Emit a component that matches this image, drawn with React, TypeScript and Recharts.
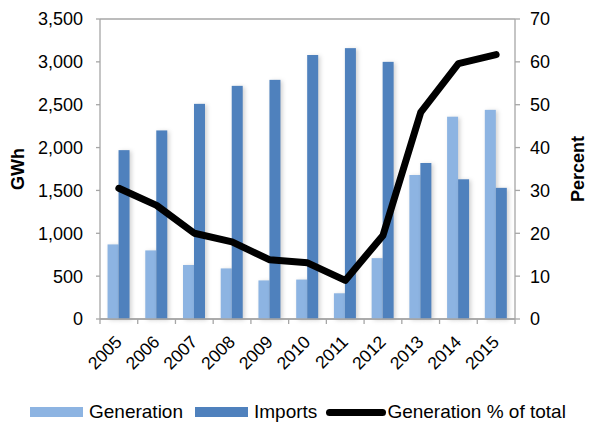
import React from 'react';
import {
  ComposedChart,
  Bar,
  Line,
  XAxis,
  YAxis,
  CartesianGrid,
  Legend,
} from 'recharts';

// Electricity supply by year
const years = ['2005', '2006', '2007', '2008', '2009', '2010', '2011', '2012', '2013', '2014', '2015'];
const generation = [870, 800, 630, 590, 450, 460, 300, 710, 1680, 2360, 2440];
const imports = [1970, 2200, 2510, 2720, 2790, 3080, 3160, 3000, 1820, 1630, 1530];
const generationShare = [30.5, 26.5, 20, 18, 13.8, 13.1, 9, 19.5, 48.2, 59.6, 61.7];

const gwhTicks = [0, 500, 1000, 1500, 2000, 2500, 3000, 3500];
const pctTicks = [0, 10, 20, 30, 40, 50, 60, 70];

const data = years.map((year, i) => ({
  year,
  generation: generation[i],
  imports: imports[i],
  share: generationShare[i],
}));

const WIDTH = 589;
const HEIGHT = 423;
const LEFT_AXIS_W = 100;
const RIGHT_AXIS_W = 74;
const PLOT_W = WIDTH - LEFT_AXIS_W - RIGHT_AXIS_W;
const BAND = PLOT_W / years.length;

const FONT = '"Liberation Sans", Arial, sans-serif';
const GRID = '#a6a6a6';
const LIGHT = '#8db4e2';
const DARK = '#4f81bd';

// Year label rotated 45°, plus category-boundary tick marks
const YearTick = (props: any) => {
  const { x, y, payload, index } = props;
  const axisY = y - 5;
  const left = x - BAND / 2;
  const right = x + BAND / 2;
  const tx = x + 4;
  const ty = y + 19;
  return (
    <g>
      <line x1={left} y1={axisY} x2={left} y2={axisY + 5} stroke={GRID} strokeWidth={1.3} />
      {index === years.length - 1 && (
        <line x1={right} y1={axisY} x2={right} y2={axisY + 5} stroke={GRID} strokeWidth={1.3} />
      )}
      <text
        x={tx}
        y={ty}
        textAnchor="end"
        transform={`rotate(-45, ${tx}, ${ty})`}
        fontFamily={FONT}
        fontSize={17.5}
        fill="#000"
      >
        {payload.value}
      </text>
    </g>
  );
};

// Bars with a soft shadow on the right
const ShadowBar = (props: any) => {
  const { x, y, width, height, fill } = props;
  if (!height || height <= 0) return null;
  return (
    <rect
      x={x}
      y={y}
      width={width}
      height={height}
      fill={fill}
      style={{ filter: 'drop-shadow(2px 1px 2px rgba(0,0,0,0.18))' }}
    />
  );
};

const LegendContent = () => (
  <div
    style={{
      display: 'flex',
      alignItems: 'center',
      paddingLeft: 30,
      fontFamily: FONT,
      fontSize: 19,
      color: '#000',
      lineHeight: '22px',
    }}
  >
    <span style={{ display: 'inline-block', width: 53, height: 10, background: LIGHT, marginRight: 6 }} />
    <span style={{ marginRight: 12 }}>Generation</span>
    <span style={{ display: 'inline-block', width: 53, height: 10, background: DARK, marginRight: 6 }} />
    <span style={{ marginRight: 9 }}>Imports</span>
    <span
      style={{
        display: 'inline-block',
        width: 60,
        height: 7,
        borderRadius: 3.5,
        background: '#000',
        marginRight: 1,
      }}
    />
    <span>Generation % of total</span>
  </div>
);

export default function App() {
  return (
    <div style={{ position: 'absolute', left: 0, top: 0, width: WIDTH, height: HEIGHT, background: '#fff' }}>
      <ComposedChart
        width={WIDTH}
        height={HEIGHT}
        data={data}
        margin={{ top: 19, right: 0, bottom: 0, left: 0 }}
        barCategoryGap="20%"
        barGap={0}
      >
        <CartesianGrid vertical={false} stroke={GRID} strokeWidth={1.3} />
        <XAxis
          dataKey="year"
          height={82}
          tick={<YearTick />}
          tickLine={false}
          tickSize={5}
          tickMargin={0}
          interval={0}
          axisLine={{ stroke: GRID, strokeWidth: 1.3 }}
        />
        <YAxis
          yAxisId="gwh"
          width={LEFT_AXIS_W}
          domain={[0, 3500]}
          ticks={gwhTicks}
          tickFormatter={(v: number) => v.toLocaleString('en-US')}
          tick={{ fontFamily: FONT, fontSize: 18, fill: '#000' }}
          tickSize={4}
          tickMargin={13}
          tickLine={{ stroke: GRID, strokeWidth: 1.3 }}
          axisLine={{ stroke: GRID, strokeWidth: 1.3 }}
          label={{
            value: 'GWh',
            angle: -90,
            position: 'insideLeft',
            offset: 18,
            style: { fontFamily: FONT, fontSize: 18, fontWeight: 'bold', fill: '#000', textAnchor: 'middle' },
          }}
        />
        <YAxis
          yAxisId="pct"
          orientation="right"
          width={RIGHT_AXIS_W}
          domain={[0, 70]}
          ticks={pctTicks}
          tick={{ fontFamily: FONT, fontSize: 18, fill: '#000', textAnchor: 'start' }}
          tickSize={5}
          tickMargin={10}
          tickLine={{ stroke: GRID, strokeWidth: 1.3 }}
          axisLine={{ stroke: GRID, strokeWidth: 1.3 }}
          label={{
            value: 'Percent',
            angle: -90,
            position: 'insideRight',
            offset: 11,
            style: { fontFamily: FONT, fontSize: 18, fontWeight: 'bold', fill: '#000', textAnchor: 'middle' },
          }}
        />
        <Bar
          yAxisId="gwh"
          dataKey="generation"
          name="Generation"
          fill={LIGHT}
          shape={<ShadowBar />}
          isAnimationActive={false}
        />
        <Bar
          yAxisId="gwh"
          dataKey="imports"
          name="Imports"
          fill={DARK}
          shape={<ShadowBar />}
          isAnimationActive={false}
        />
        <Line
          yAxisId="pct"
          dataKey="share"
          name="Generation % of total"
          type="linear"
          stroke="#000"
          strokeWidth={7}
          strokeLinecap="round"
          strokeLinejoin="round"
          dot={false}
          activeDot={false}
          isAnimationActive={false}
        />
        <Legend verticalAlign="bottom" content={<LegendContent />} />
      </ComposedChart>
    </div>
  );
}
